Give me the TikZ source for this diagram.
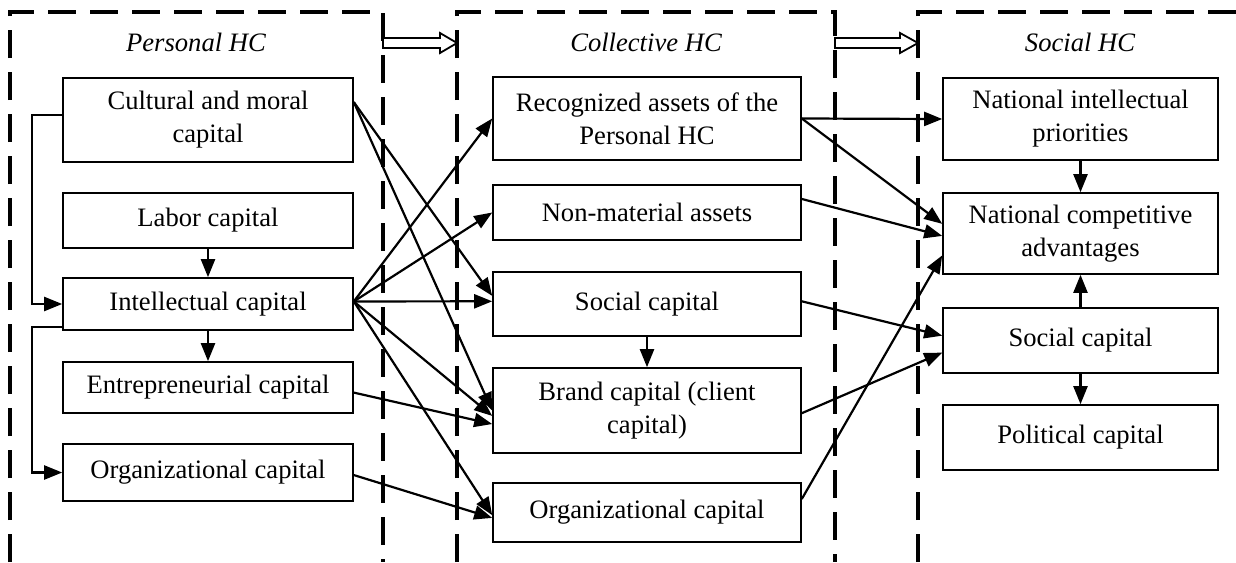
\documentclass[tikz,border=0pt]{standalone}
\usepackage{fontspec}
\setmainfont{Liberation Serif}
\usetikzlibrary{arrows.meta}

\begin{document}
\begin{tikzpicture}[x=0.5pt,y=-0.5pt,
  box/.style={draw,line width=0.8pt,align=center,inner sep=1pt,font=\fontsize{13.3}{16.5}\selectfont},
  lbox/.style={box,minimum width=145pt},
  mbox/.style={box,minimum width=154pt},
  rbox/.style={box,minimum width=137.5pt},
  conn/.style={line width=1.1pt,-{Triangle[length=9pt,width=7pt]}},
  panel/.style={line width=1.7pt,dash pattern=on 14pt off 7pt},
  hollow/.style={draw,line width=0.9pt,fill=white},
  title/.style={font=\fontsize{13.3}{16}\selectfont\itshape}]
\useasboundingbox (0,0) rectangle (1236,562);
% panels
\draw[panel] (10,562) -- (10,12) -- (383,12) -- (383,562);
\draw[panel] (457,562) -- (457,12) -- (835,12) -- (835,562);
\draw[panel] (918,562) -- (918,12) -- (1236,12);
\draw[hollow] (383,38) -- (440,38) -- (440,33) -- (457,43) -- (440,53) -- (440,48) -- (383,48) -- cycle;
\draw[hollow] (835,38) -- (900,38) -- (900,33) -- (918,43) -- (900,53) -- (900,48) -- (835,48) -- cycle;
\node[title] (t1) at (196,42) {Personal HC};
\node[title] (t2) at (646,42) {Collective HC};
\node[title] (t3) at (1080,42) {Social HC};
% personal
\node[lbox,minimum height=42pt] (cm) at (208,120) {Cultural and moral\\capital};
\node[lbox,minimum height=27.5pt] (lab) at (208,220.5) {Labor capital};
\node[lbox,minimum height=26pt] (ic) at (208,304) {Intellectual capital};
\node[lbox,minimum height=25.5pt] (ec) at (208,387.5) {Entrepreneurial capital};
\node[lbox,minimum height=28.5pt] (oc) at (208,472.5) {Organizational capital};
% collective
\node[mbox,minimum height=41.5pt] (ra) at (647,118.5) {Recognized assets of the\\Personal HC};
\node[mbox,minimum height=27.5pt] (nm) at (647,212.5) {Non-material assets};
\node[mbox,minimum height=32pt] (sc) at (647,304) {Social capital};
\node[mbox,minimum height=42.5pt] (bc) at (647,410.5) {Brand capital (client\\capital)};
\node[mbox,minimum height=29.5pt] (og) at (647,512.5) {Organizational capital};
% social
\node[rbox,minimum height=41pt] (nip) at (1080.5,119) {National intellectual\\priorities};
\node[rbox,minimum height=40.5pt] (nca) at (1080.5,233.5) {National competitive\\advantages};
\node[rbox,minimum height=32.5pt] (rsc) at (1080.5,340.5) {Social capital};
\node[rbox,minimum height=32.5pt] (pc) at (1080.5,437.5) {Political capital};
\foreach \from/\to in {lab/ic,ic/ec,sc/bc,nip/nca,rsc/pc,rsc/nca}
\draw[conn] (\from) -- (\to);
\foreach \from/\to in {cm.7/sc.177,cm.7/bc.180,ic.1/ra.west,ic.1/nm.west,ic.1/sc.179,
  ic.1/bc.182,ic.1/og.181,ec.358/bc.185,oc.359/og.182,
  ra.east/nip.west,ra.east/nca.176,nm.5/nca.181,og.5/nca.189,sc.1/rsc.178,bc.359/rsc.185}
\draw[conn] (\from) -- (\to);
\draw[conn] (cm.178) -- ++(-30,0) |- (ic.west);
\draw[conn] (ic.189) -- ++(-30,0) |- (oc.west);
\end{tikzpicture}
\end{document}
